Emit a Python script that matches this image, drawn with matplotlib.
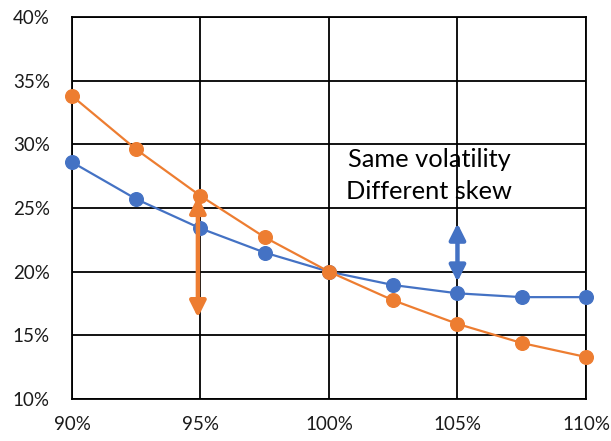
import matplotlib
matplotlib.use("Agg")
import matplotlib.pyplot as plt
from matplotlib.ticker import FuncFormatter

plt.rcParams['font.family'] = ['Lato', 'DejaVu Sans']

moneyness = [90, 92.5, 95, 97.5, 100, 102.5, 105, 107.5, 110]
vol_blue = [28.6, 25.7, 23.4, 21.5, 20.0, 18.95, 18.3, 18.0, 18.0]
vol_orange = [33.8, 29.6, 25.95, 22.7, 20.0, 17.75, 15.9, 14.4, 13.3]
x_ticks = [90, 95, 100, 105, 110]
y_ticks = [10, 15, 20, 25, 30, 35, 40]

blue = '#4472C4'
orange = '#ED7D31'

fig = plt.figure(figsize=(6.11, 4.41), dpi=100)
ax = fig.add_axes([0.1178, 0.0952, 0.8412, 0.8663])

ax.plot(moneyness, vol_blue, color=blue, lw=1.6, marker='o', ms=9.8, zorder=4, clip_on=False)
ax.plot(moneyness, vol_orange, color=orange, lw=1.6, marker='o', ms=9.8, zorder=4, clip_on=False)

ax.set_xlim(90, 110)
ax.set_ylim(10, 40)
ax.set_xticks(x_ticks)
ax.set_yticks(y_ticks)
ax.xaxis.set_major_formatter(FuncFormatter(lambda v, p: f"{v:.0f}%"))
ax.yaxis.set_major_formatter(FuncFormatter(lambda v, p: f"{v:.0f}%"))
ax.tick_params(length=0, labelsize=13.5, colors='#1a1a1a')
ax.tick_params(axis='x', pad=12)
ax.tick_params(axis='y', pad=16)
ax.grid(True, color='black', lw=1.3, zorder=1)
for s in ax.spines.values():
    s.set_color('black')
    s.set_linewidth(1.3)

# arrows
ax.annotate('', xy=(94.9, 16.4), xytext=(94.9, 25.9),
            arrowprops=dict(arrowstyle='<|-|>', color=orange, lw=3.2,
                            mutation_scale=24, shrinkA=0, shrinkB=0), zorder=5)
ax.annotate('', xy=(105, 19.2), xytext=(105, 23.8),
            arrowprops=dict(arrowstyle='<|-|>', color=blue, lw=3.2,
                            mutation_scale=24, shrinkA=0, shrinkB=0), zorder=5)

ax.text(103.9, 28.8, 'Same volatility', fontsize=18.3, ha='center', va='center', zorder=6)
ax.text(103.9, 26.3, 'Different skew', fontsize=18.3, ha='center', va='center', zorder=6)

fig.savefig('out.png', dpi=100)
